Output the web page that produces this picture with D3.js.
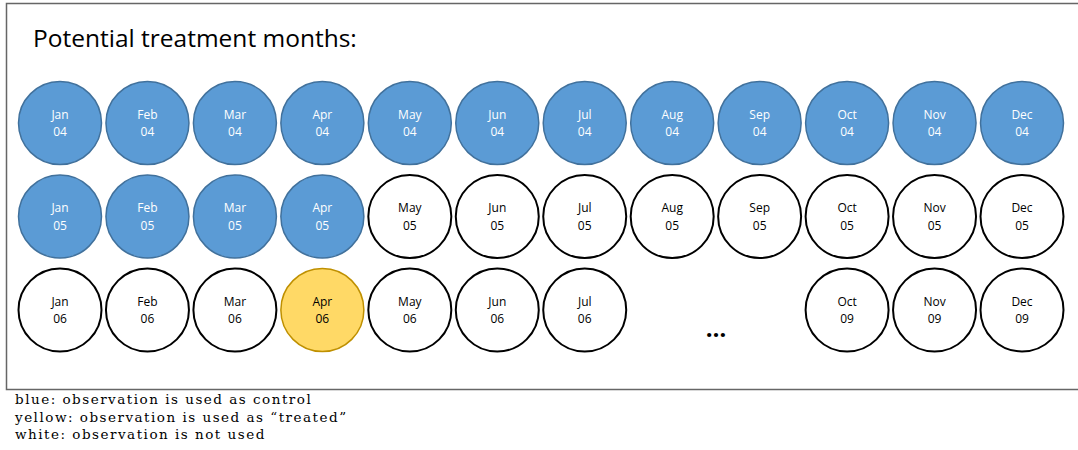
<!DOCTYPE html>
<html>
<head>
<meta charset="utf-8">
<script src="https://cdn.jsdelivr.net/npm/d3@7"></script>
<style>
  body { margin: 0; background: #fff; }
</style>
</head>
<body>
<div id="chart"></div>
<script>
// months on the columns, years on the rows
const months = ["Jan", "Feb", "Mar", "Apr", "May", "Jun", "Jul", "Aug", "Sep", "Oct", "Nov", "Dec"];
const rowYears = ["04", "05", "06"];
const row3Months = ["Jan", "Feb", "Mar", "Apr", "May", "Jun", "Jul"];
const tailYear = "09";
const tailMonths = ["Oct", "Nov", "Dec"];

// status of each cell
const controlCells = ["Jan 04", "Feb 04", "Mar 04", "Apr 04", "May 04", "Jun 04", "Jul 04", "Aug 04",
    "Sep 04", "Oct 04", "Nov 04", "Dec 04", "Jan 05", "Feb 05", "Mar 05", "Apr 05"];
const treatedCells = ["Apr 06"];

const legendLines = [
    "blue: observation is used as control",
    "yellow: observation is used as \u201ctreated\u201d",
    "white: observation is not used"
];

const width = 1078;
const height = 450;

const svg = d3.select("#chart")
    .append("svg")
    .attr("width", width)
    .attr("height", height);

// build the cells list
const cells = [];
months.forEach(m => cells.push({ month: m, year: rowYears[0], row: 0 }));
months.forEach(m => cells.push({ month: m, year: rowYears[1], row: 1 }));
row3Months.forEach(m => cells.push({ month: m, year: rowYears[2], row: 2 }));
tailMonths.forEach(m => cells.push({ month: m, year: tailYear, row: 2 }));
cells.forEach(d => {
    const key = d.month + " " + d.year;
    d.status = controlCells.includes(key) ? "control" : treatedCells.includes(key) ? "treated" : "unused";
});

const xScale = d3.scalePoint().domain(months).range([60, 1022]);
const yScale = d3.scalePoint().domain([0, 1, 2]).range([123, 310]);
const r = 41.5;

const fill = { control: "#5b9bd5", treated: "#ffd966", unused: "#ffffff" };
const stroke = { control: "#41719c", treated: "#bf9000", unused: "#000000" };
const strokeW = { control: 1.5, treated: 1.5, unused: 2 };
const textCol = { control: "#ffffff", treated: "#000000", unused: "#000000" };

// frame
svg.append("rect")
    .attr("x", 6.5)
    .attr("y", 3.5)
    .attr("width", width + 20)
    .attr("height", 386)
    .attr("fill", "none")
    .attr("stroke", "#666")
    .attr("stroke-width", 1.5);

svg.append("text")
    .attr("x", 33)
    .attr("y", 47)
    .attr("font-family", "'Open Sans', sans-serif")
    .attr("font-size", 24.5)
    .attr("fill", "#000")
    .text("Potential treatment months:");

const g = svg.append("g")
    .selectAll("g")
    .data(cells)
    .join("g")
    .attr("transform", d => `translate(${xScale(d.month)},${yScale(d.row)})`);

g.append("circle")
    .attr("r", r)
    .attr("fill", d => fill[d.status])
    .attr("stroke", d => stroke[d.status])
    .attr("stroke-width", d => strokeW[d.status]);

g.append("text")
    .attr("text-anchor", "middle")
    .attr("font-family", "'Open Sans', sans-serif")
    .attr("font-size", 12)
    .attr("fill", d => textCol[d.status])
    .selectAll("tspan")
    .data(d => [d.month, d.year])
    .join("tspan")
    .attr("x", 0)
    .attr("y", (d, i) => i === 0 ? -4.5 : 13)
    .text(d => d);

// ellipsis between Jul and Oct on the last row
svg.append("text")
    .attr("x", (xScale("Aug") + xScale("Sep")) / 2)
    .attr("y", yScale(2) + 27)
    .attr("text-anchor", "middle")
    .attr("font-family", "'Open Sans', sans-serif")
    .attr("font-weight", "bold")
    .attr("font-size", 24)
    .text("\u2026");

svg.append("g")
    .selectAll("text")
    .data(legendLines)
    .join("text")
    .attr("x", 15)
    .attr("y", (d, i) => 404 + i * 17.5)
    .attr("font-family", "'DejaVu Serif', serif")
    .attr("font-size", 13.5)
    .attr("letter-spacing", 1.5)
    .attr("fill", "#000")
    .text(d => d);
</script>
</body>
</html>
